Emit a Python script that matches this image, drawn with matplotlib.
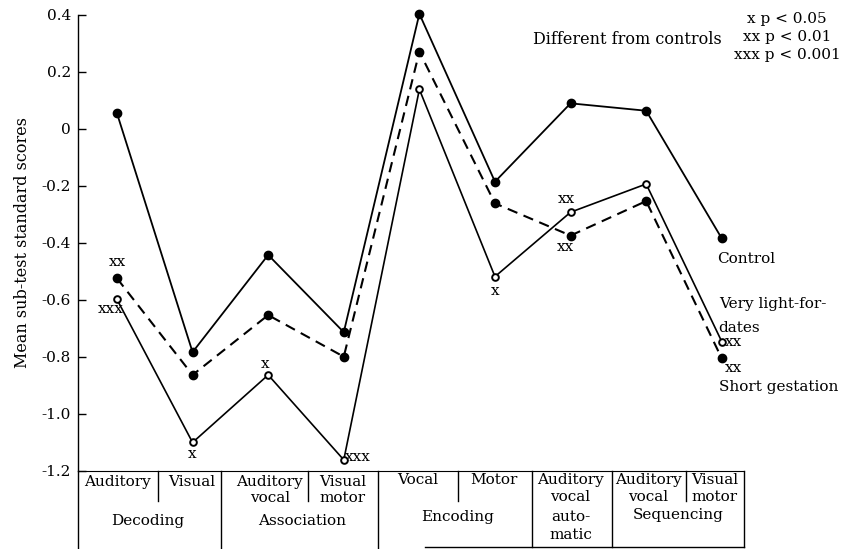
import matplotlib
matplotlib.use('Agg')
import matplotlib.pyplot as plt
import numpy as np

plt.rcParams['font.family'] = ['DejaVu Serif']
plt.rcParams['axes.unicode_minus'] = False

# sub-tests, left to right
subtests = ['Auditory decoding', 'Visual decoding',
            'Auditory vocal association', 'Visual motor association',
            'Vocal encoding', 'Motor encoding',
            'Auditory vocal automatic',
            'Auditory vocal sequencing', 'Visual motor sequencing']

control = [0.055, -0.783, -0.442, -0.713, 0.404, -0.185, 0.090, 0.064, -0.384]
short_gestation = [-0.524, -0.863, -0.653, -0.799, 0.271, -0.261, -0.374, -0.253, -0.805]
light_for_dates = [-0.598, -1.100, -0.863, -1.161, 0.139, -0.518, -0.292, -0.193, -0.746]

y_ticks = [0.4, 0.2, 0.0, -0.2, -0.4, -0.6, -0.8, -1.0, -1.2]
y_tick_labels = ['0.4', '0.2', '0', '-0.2', '-0.4', '-0.6', '-0.8', '-1.0', '-1.2']

# significance marks
marks_sg = {0: 'xx', 6: 'xx', 8: 'xx'}
marks_lfd = {0: 'xxx', 1: 'x', 2: 'x', 3: 'xxx', 5: 'x', 6: 'xx', 8: 'xx'}

fig = plt.figure(figsize=(8.42, 5.49), dpi=100)
ax = fig.add_axes([0.0926, 0.1421, 0.791, 0.8306])

x = np.arange(len(subtests))

ax.plot(x, control, color='black', lw=1.3, marker='o', ms=6,
        mfc='black', mec='black', clip_on=False, zorder=3)
ax.plot(x, short_gestation, color='black', lw=1.5, dashes=(5, 3.2),
        marker='o', ms=6, mfc='black', mec='black', clip_on=False, zorder=3)
ax.plot(x, light_for_dates, color='black', lw=1.2, marker='o', ms=4.8,
        mfc='white', mec='black', mew=1.4, clip_on=False, zorder=4)

ax.set_xlim(-0.516, 8.294)
ax.set_ylim(-1.2, 0.4)
ax.set_yticks(y_ticks)
ax.set_yticklabels(y_tick_labels, fontsize=11)
ax.set_xticks([])
ax.tick_params(axis='y', direction='in', length=6, width=1, pad=5)
for s in ['top', 'right']:
    ax.spines[s].set_visible(False)
ax.spines['left'].set_linewidth(1.0)
ax.spines['bottom'].set_linewidth(0.8)

ax.set_ylabel('Mean sub-test standard scores', fontsize=11.5, labelpad=8)

fs = 11


def mark(txt, xv, yv, dx, dy, ha='center'):
    ax.annotate(txt, (xv, yv), xytext=(dx, dy), textcoords='offset points',
                ha=ha, va='center', fontsize=fs, annotation_clip=False)


mark(marks_sg[0], 0, short_gestation[0], 0, 11.5)
mark(marks_lfd[0], 0, light_for_dates[0], 4.5, -7, ha='right')
mark(marks_lfd[1], 1, light_for_dates[1], 0, -8.5)
mark(marks_lfd[2], 2, light_for_dates[2], -2, 8)
mark(marks_lfd[3], 3, light_for_dates[3], 1, 2, ha='left')
mark(marks_lfd[5], 5, light_for_dates[5], 0, -10)
mark(marks_lfd[6], 6, light_for_dates[6], -3, 9.5)
mark(marks_sg[6], 6, short_gestation[6], -3.5, -8)
mark(marks_lfd[8], 8, light_for_dates[8], 2, 0, ha='left')
mark(marks_sg[8], 8, short_gestation[8], 2.5, -7, ha='left')

# series labels
ax.text(7.94, -0.455, 'Control', fontsize=fs, ha='left', va='center', clip_on=False)
ax.text(7.96, -0.613, 'Very light-for-', fontsize=fs, ha='left', va='center', clip_on=False)
ax.text(7.96, -0.697, 'dates', fontsize=fs, ha='left', va='center', clip_on=False)
ax.text(7.96, -0.907, 'Short gestation', fontsize=fs, ha='left', va='center', clip_on=False)

# significance key
fig.text(533 / 842, 1 - 39 / 549, 'Different from controls', fontsize=11.5,
         ha='left', va='center')
fig.text(787 / 842, 1 - 19 / 549, 'x p < 0.05', fontsize=fs, ha='center', va='center')
fig.text(787 / 842, 1 - 37 / 549, 'xx p < 0.01', fontsize=fs, ha='center', va='center')
fig.text(787 / 842, 1 - 55 / 549, 'xxx p < 0.001', fontsize=fs, ha='center', va='center')

# table of sub-test names under the axis
lk = dict(color='black', lw=1.0, clip_on=False)
y_top, y_short, y_bot, y_fig = -1.2, -1.307, -1.465, -1.472
ax.plot([-0.516, -0.516], [y_top, y_fig], **lk)
for xv in [0.54, 2.53, 4.51, 7.53]:
    ax.plot([xv, xv], [y_top, y_short], **lk)
for xv in [1.38, 3.45]:
    ax.plot([xv, xv], [y_top, y_fig], **lk)
for xv in [5.49, 6.55, 8.294]:
    ax.plot([xv, xv], [y_top, y_bot], **lk)
ax.plot([4.07, 8.294], [y_bot, y_bot], **lk)

tk = dict(fontsize=fs, ha='center', va='center', clip_on=False)
r1, r2, r3, r4 = -1.240, -1.296, -1.363, -1.423
ax.text(0.0, r1, 'Auditory', **tk)
ax.text(0.99, r1, 'Visual', **tk)
ax.text(0.41, -1.374, 'Decoding', **tk)
ax.text(2.02, r1, 'Auditory', **tk)
ax.text(2.02, r2, 'vocal', **tk)
ax.text(2.98, r1, 'Visual', **tk)
ax.text(2.98, r2, 'motor', **tk)
ax.text(2.45, -1.374, 'Association', **tk)
ax.text(3.98, -1.233, 'Vocal', **tk)
ax.text(4.99, -1.233, 'Motor', **tk)
ax.text(4.50, r3, 'Encoding', **tk)
ax.text(6.0, -1.233, 'Auditory', **tk)
ax.text(6.0, -1.293, 'vocal', **tk)
ax.text(6.0, r3, 'auto-', **tk)
ax.text(6.0, r4, 'matic', **tk)
ax.text(7.03, -1.233, 'Auditory', **tk)
ax.text(7.03, -1.293, 'vocal', **tk)
ax.text(7.91, -1.233, 'Visual', **tk)
ax.text(7.91, -1.293, 'motor', **tk)
ax.text(7.42, -1.353, 'Sequencing', **tk)

fig.savefig('out.png', dpi=100)
